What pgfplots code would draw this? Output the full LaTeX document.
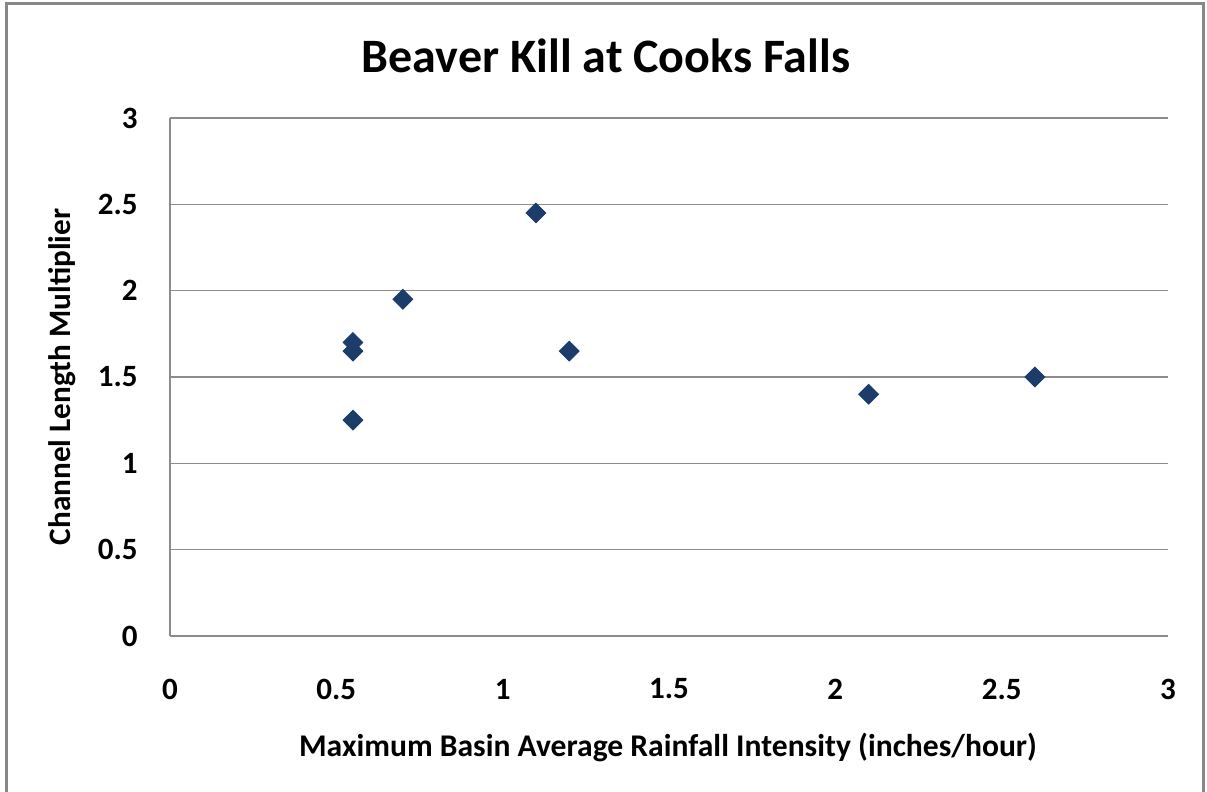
\documentclass[border=0pt]{standalone}
\usepackage{fontspec}
\setmainfont{Carlito}
\usepackage{pgfplots}
\pgfplotsset{compat=1.18}
\definecolor{markblue}{HTML}{1C3D6A}
\definecolor{gridgray}{HTML}{8C8C8C}
\definecolor{framegray}{HTML}{888888}

\begin{document}
\begin{tikzpicture}
\clip (0,0) rectangle (603.5pt,396pt);
\fill[white] (0,0) rectangle (603.5pt,396pt);
\draw[framegray, line width=1.5pt] (3pt,-10pt) rectangle (601.5pt,394pt);
\begin{axis}[
    at={(85pt,78pt)}, anchor=south west,
    scale only axis, width=499pt, height=259pt,
    xmin=0, xmax=3, ymin=0, ymax=3,
    xtick={0,0.5,1,1.5,2,2.5,3},
    ytick={0,0.5,1,1.5,2,2.5,3},
    axis lines*=left,
    axis line style={gridgray, line width=0.6pt},
    ymajorgrids, grid style={gridgray, line width=0.6pt},
    major tick length=0pt,
    /pgf/number format/assume math mode=true,
    tick label style={font=\bfseries\fontsize{15.5}{16}\selectfont, inner sep=0pt},
    x tick label style={anchor=center, yshift=-26.5pt},
    y tick label style={anchor=east, xshift=-16pt},
    clip=false,
]
\addplot[only marks, mark=square*, mark size=3.5pt,
         mark options={rotate=45, fill=markblue, draw=markblue}]
coordinates {
 (0.55,1.70) (0.55,1.65) (0.55,1.25) (0.70,1.95)
 (1.10,2.45) (1.20,1.65) (2.10,1.40) (2.60,1.50)
};
\end{axis}
\node[font=\bfseries\fontsize{24}{27}\selectfont] at (303pt,368pt) {Beaver Kill at Cooks Falls};
\node[font=\bfseries\fontsize{15.6}{16}\selectfont, rotate=90] at (31pt,207.5pt) {Channel Length Multiplier};
\node[font=\bfseries\fontsize{15.8}{16}\selectfont] at (334pt,22.5pt) {Maximum Basin Average Rainfall Intensity (inches/hour)};
\end{tikzpicture}
\end{document}
